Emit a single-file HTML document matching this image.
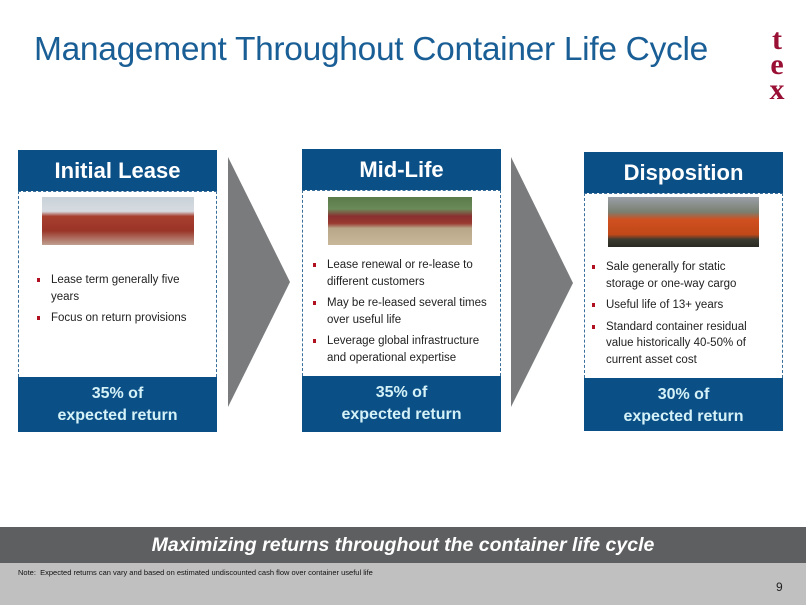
<!DOCTYPE html>
<html><head><meta charset="utf-8"><style>
*{margin:0;padding:0;box-sizing:border-box}
body{width:806px;height:605px;position:relative;background:#fff;font-family:"Liberation Sans",sans-serif;overflow:hidden}
.a{position:absolute}
.title{left:34px;top:31px;font-size:33.5px;color:#1a5e96;white-space:nowrap;letter-spacing:-0.3px}
.logo{left:765px;top:27px;font-family:"Liberation Serif",serif;font-weight:bold;color:#9a1035;font-size:30px;line-height:25px;text-align:center;width:24px}
.hd{background:#0b4f87;color:#fff;font-weight:bold;font-size:22px;text-align:center;height:41px;line-height:41px}
.bd{border-left:1px dashed #3a6f9c;border-right:1px dashed #3a6f9c;border-top:1px dashed #3a6f9c}
.ft{background:#0b4f87;color:#d4f2f7;font-weight:bold;font-size:16px;text-align:center;line-height:22px;padding-top:6px}
ul{list-style:none;font-size:11.5px;color:#222;line-height:16.5px}
li{position:relative;padding-left:14px;margin-bottom:5px}
li:before{content:"";position:absolute;left:0;top:6px;width:3px;height:4px;background:#b01020}
</style></head><body>
<div class="a title">Management Throughout Container Life Cycle</div>
<div class="a logo">t<br>e<br>x</div>

<div class="a hd" style="left:18px;top:150px;width:199px">Initial Lease</div>
<div class="a bd" style="left:18px;top:191px;width:199px;height:186px"></div>
<div class="a" style="left:42px;top:197px;width:152px;height:48px;background:linear-gradient(#c9d2d9 0%,#d6dbe0 30%,#a84030 40%,#9a3428 70%,#c0a090 100%)"></div>
<ul class="a" style="left:37px;top:272px;width:160px"><li>Lease term generally five years</li><li>Focus on return provisions</li></ul>
<div class="a ft" style="left:18px;top:377px;width:199px;height:55px">35% of<br>expected return</div>

<svg class="a" style="left:0;top:0" width="806" height="605"><polygon points="228,157 290,282 228,407" fill="#7a7b7d"/><polygon points="511,157 573,283 511,407" fill="#7a7b7d"/></svg>

<div class="a hd" style="left:302px;top:149px;width:199px">Mid-Life</div>
<div class="a bd" style="left:302px;top:190px;width:199px;height:186px"></div>
<div class="a" style="left:328px;top:197px;width:144px;height:48px;background:linear-gradient(#5a7a4a 0%,#6b8a5a 25%,#8a3030 40%,#9a3a30 55%,#b8a888 65%,#c8b89a 100%)"></div>
<ul class="a" style="left:313px;top:257px;width:185px"><li>Lease renewal or re-lease to different customers</li><li>May be re-leased several times over useful life</li><li>Leverage global infrastructure and operational expertise</li></ul>
<div class="a ft" style="left:302px;top:376px;width:199px;height:56px">35% of<br>expected return</div>

<div class="a hd" style="left:584px;top:152px;width:199px">Disposition</div>
<div class="a bd" style="left:584px;top:193px;width:199px;height:185px"></div>
<div class="a" style="left:608px;top:197px;width:151px;height:50px;background:linear-gradient(#9aa0a8 0%,#7a7f70 30%,#d05020 45%,#c04818 75%,#3a3a30 85%,#2a2a22 100%)"></div>
<ul class="a" style="left:592px;top:259px;width:172px"><li>Sale generally for static storage or one-way cargo</li><li>Useful life of 13+ years</li><li>Standard container residual value historically 40-50% of current asset cost</li></ul>
<div class="a ft" style="left:584px;top:378px;width:199px;height:53px">30% of<br>expected return</div>

<div class="a" style="left:0;top:527px;width:806px;height:36px;background:#5e5f60;color:#fff;font-style:italic;font-weight:bold;font-size:19.5px;text-align:center;line-height:36px">Maximizing returns throughout the container life cycle</div>
<div class="a" style="left:0;top:563px;width:806px;height:42px;background:#c0c0c0"></div>
<div class="a" style="left:18px;top:568px;font-size:7.5px;color:#111">Note:&nbsp; Expected returns can vary and based on estimated undiscounted cash flow over container useful life</div>
<div class="a" style="left:776px;top:580px;font-size:12px;color:#222">9</div>
</body></html>
